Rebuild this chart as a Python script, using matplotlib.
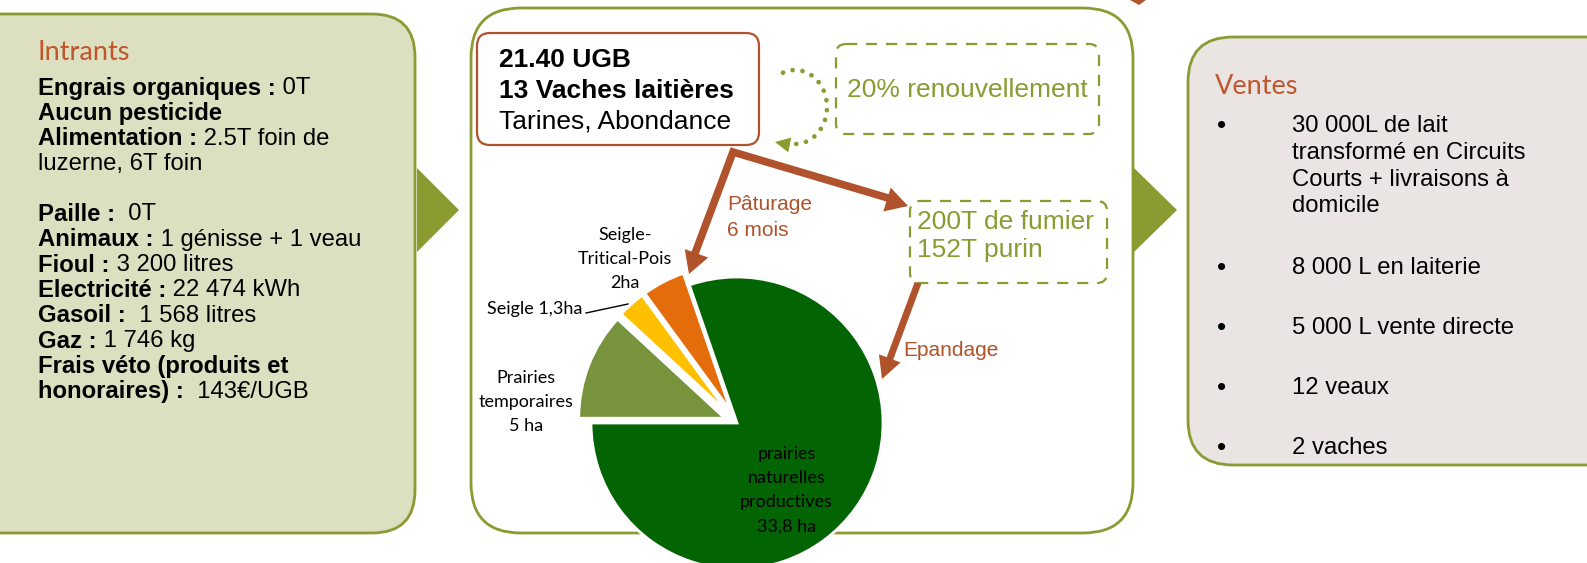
import numpy as np
import matplotlib.pyplot as plt
from matplotlib.patches import FancyBboxPatch, Polygon

# ---------------------------------------------------------------- data
intrants_bold = ["Engrais organiques :", "Aucun pesticide", "Alimentation :", "", "",
                 "Paille :", "Animaux :", "Fioul :", "Electricité :", "Gasoil :",
                 "Gaz :", "Frais véto (produits et", "honoraires) :"]
intrants_rest = [" 0T", "", " 2.5T foin de", "luzerne, 6T foin", "",
                 "  0T", " 1 génisse + 1 veau", " 3 200 litres", " 22 474 kWh",
                 "  1 568 litres", " 1 746 kg", "", "  143€/UGB"]

troupeau = ["21.40 UGB", "13 Vaches laitières", "Tarines, Abondance"]
renouvellement = "20% renouvellement"
effluents = ["200T de fumier", "152T purin"]

surfaces_ha = [33.8, 2.0, 1.3, 5.0]
surface_labels = ["prairies\nnaturelles\nproductives\n33,8 ha",
                  "Seigle-\nTritical-Pois\n2ha",
                  "Seigle 1,3ha",
                  "Prairies\ntemporaires\n5 ha"]
surface_colors = ["#036403", "#E46C0A", "#FFC000", "#77933C"]

ventes = [["30 000L de lait", "transformé en Circuits", "Courts + livraisons à", "domicile"],
          ["8 000 L en laiterie"],
          ["5 000 L vente directe"],
          ["12 veaux"],
          ["2 vaches"]]

# ---------------------------------------------------------------- style
W, H = 1587, 563
OLIVE = '#8B9A31'
BROWN = '#B0522B'
RUST = '#C0562C'
ARIAL = ['Liberation Sans', 'DejaVu Sans']
CALI = ['Lato', 'DejaVu Sans']

fig = plt.figure(figsize=(W / 100, H / 100), dpi=100)
ax = fig.add_axes([0, 0, 1, 1])
ax.set_xlim(0, W)
ax.set_ylim(H, 0)
ax.axis('off')


def rbox(x0, y0, x1, y1, r, fc, ec, lw=2.0, ls='-'):
    ax.add_patch(FancyBboxPatch((x0, y0), x1 - x0, y1 - y0,
                                boxstyle=f'round,pad=0,rounding_size={r}',
                                fc=fc, ec=ec, lw=lw, ls=ls))


def head(tip, frm, length, width, color):
    tip = np.array(tip, float)
    d = tip - np.array(frm, float)
    d /= np.hypot(*d)
    p = np.array([-d[1], d[0]])
    base = tip - d * length
    ax.add_patch(Polygon([tip, base + p * width / 2, base - p * width / 2],
                         closed=True, color=color, lw=0))


# three big panels + the olive triangles between them
rbox(-60, 14, 415, 533, 43, '#DCDFC0', OLIVE)
rbox(471, 8, 1133, 533, 50, 'white', OLIVE)
rbox(1188, 37, 1660, 465, 45, '#EAE5E2', OLIVE)
ax.add_patch(Polygon([(417, 168), (459, 210), (417, 252)], color=OLIVE, lw=0))
ax.add_patch(Polygon([(1134, 168), (1177, 210), (1134, 252)], color=OLIVE, lw=0))
ax.add_patch(Polygon([(1130, 0), (1146, 0), (1139, 5)], color=BROWN, lw=0))

# ---------------------------------------------------------------- Intrants
ax.text(38, 53, 'Intrants', family=CALI, size=19.5, color=RUST, va='center')
for i, (b, r) in enumerate(zip(intrants_bold, intrants_rest)):
    y = 88 + 25.3 * i
    if b:
        t = ax.text(38, y, b, family=ARIAL, weight='bold', size=17.2, va='center')
        if r:
            ax.annotate(r, xy=(1, 0.5), xycoords=t, va='center', family=ARIAL, size=17.2)
    elif r:
        ax.text(38, y, r, family=ARIAL, size=17.2, va='center')

# ---------------------------------------------------------------- centre
rbox(477, 33, 759, 145, 13, 'white', BROWN, lw=1.6)
for i, s in enumerate(troupeau):
    ax.text(499, 60 + 31 * i, s, family=ARIAL, size=19, va='center',
            weight='bold' if i < 2 else 'normal')

rbox(836, 44, 1099, 134, 10, 'none', OLIVE, lw=1.6, ls=(0, (5, 4)))
ax.text(847, 90, renouvellement, family=ARIAL, size=19, color=OLIVE, va='center')

rbox(910, 201, 1107, 283, 10, 'none', OLIVE, lw=1.6, ls=(0, (5, 4)))
for i, s in enumerate(effluents):
    ax.text(917, 222 + 28 * i, s, family=ARIAL, size=19, color=OLIVE, va='center')

# dotted renewal loop
t = np.linspace(np.radians(112), np.radians(-98), 60)
ax.plot(795 + 32 * np.cos(t), 107 - 37 * np.sin(t), color=OLIVE, lw=3.4,
        ls=(0, (0.01, 2.1)), dash_capstyle='round')
head((775, 142), (790, 145), 15, 15, OLIVE)

# brown flow arrows
ax.plot([694, 733, 888], [256, 152, 198], color=BROWN, lw=5.5,
        solid_joinstyle='miter', solid_capstyle='butt')
head((689, 274), (733, 152), 22, 25, BROWN)
head((908, 206), (733, 152), 22, 25, BROWN)
ax.plot([918, 889], [283, 361], color=BROWN, lw=5, solid_capstyle='butt')
head((882, 379), (918, 283), 22, 23, BROWN)
ax.text(727, 205, 'Pâturage', family=ARIAL, size=15, color=BROWN, va='center')
ax.text(727, 230, '6 mois', family=ARIAL, size=15, color=BROWN, va='center')
ax.text(903, 350, 'Epandage', family=ARIAL, size=15, color=BROWN, va='center')

# pie labels
ax.text(526, 402, surface_labels[3], family=CALI, size=13, ha='center', va='center',
        linespacing=1.62)
ax.text(625, 259, surface_labels[1], family=CALI, size=13, ha='center', va='center',
        linespacing=1.62)
ax.text(582, 309, surface_labels[2], family=CALI, size=13, ha='right', va='center')
ax.plot([586, 628], [313, 304], color='black', lw=1)

# ---------------------------------------------------------------- pie
cx, cy, R, L = 737, 423, 146, 1.15
pax = fig.add_axes([(cx - R * L) / W, (H - cy - R * L) / H, 2 * R * L / W, 2 * R * L / H])
pax.pie(surfaces_ha, colors=surface_colors, startangle=180, counterclock=True,
        explode=[0, 0.09, 0.09, 0.09], wedgeprops=dict(edgecolor='white', linewidth=2))
pax.set_xlim(-L, L)
pax.set_ylim(-L, L)
pax.set_aspect('auto')
pax.axis('off')
pax.text(0.34, -0.46, surface_labels[0], family=CALI, size=13, ha='center', va='center',
         linespacing=1.62)

# ---------------------------------------------------------------- Ventes
ax.text(1215, 86, 'Ventes', family=CALI, size=19.5, color=RUST, va='center')
for y0, lines in zip([126.5, 268, 328, 388, 448], ventes):
    ax.text(1222, y0, '•', family=ARIAL, size=19, ha='center', va='center')
    for j, s in enumerate(lines):
        ax.text(1292, y0 + 26.5 * j, s, family=ARIAL, size=17.2, va='center')

fig.savefig('out.png', dpi=100)
